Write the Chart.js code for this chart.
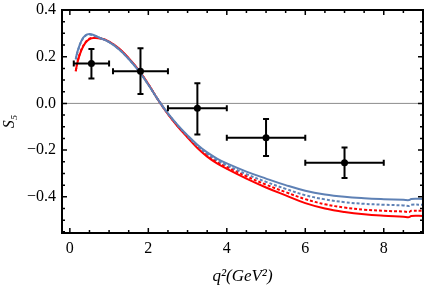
<!DOCTYPE html>
<html>
<head>
<meta charset="utf-8">
<script src="https://cdn.jsdelivr.net/npm/chart.js@4"></script>
<style>
  html, body { margin: 0; padding: 0; background: #fff; }
  #wrap { width: 427px; height: 287px; }
</style>
</head>
<body>
<div id="wrap"><canvas id="s5chart" width="427" height="287"></canvas></div>
<script>
// q^2 grid of the theory curves
let q2 = [0.15, 0.2, 0.3, 0.4, 0.5, 0.6, 0.8, 1.0, 1.25, 1.5, 1.75, 2.0, 2.25, 2.5, 2.75, 3.0, 3.25, 3.5, 3.75, 4.0, 4.5, 5.0, 5.5, 6.0, 6.5, 7.0, 7.5, 8.0, 8.5, 8.65, 8.7, 9.0];
let blue_solid  = [0.19, 0.225, 0.27, 0.292, 0.297, 0.293, 0.278, 0.262, 0.232, 0.19, 0.14, 0.08, 0.015, -0.043, -0.093, -0.137, -0.177, -0.21, -0.236, -0.257, -0.292, -0.322, -0.35, -0.374, -0.39, -0.4, -0.406, -0.41, -0.413, -0.414, -0.409, -0.409];
let blue_dashed = [0.188, 0.223, 0.268, 0.29, 0.295, 0.291, 0.278, 0.263, 0.233, 0.191, 0.141, 0.081, 0.015, -0.044, -0.095, -0.14, -0.182, -0.216, -0.243, -0.265, -0.303, -0.336, -0.366, -0.393, -0.411, -0.423, -0.43, -0.434, -0.437, -0.439, -0.434, -0.434];
let red_dashed  = [0.139, 0.182, 0.232, 0.262, 0.277, 0.281, 0.278, 0.264, 0.234, 0.192, 0.142, 0.082, 0.015, -0.045, -0.097, -0.143, -0.186, -0.222, -0.25, -0.272, -0.312, -0.348, -0.38, -0.41, -0.432, -0.446, -0.455, -0.46, -0.463, -0.465, -0.46, -0.46];
let red_solid   = [0.137, 0.18, 0.23, 0.26, 0.275, 0.28, 0.278, 0.265, 0.236, 0.194, 0.144, 0.083, 0.015, -0.046, -0.099, -0.146, -0.191, -0.228, -0.257, -0.28, -0.322, -0.36, -0.394, -0.427, -0.45, -0.465, -0.475, -0.481, -0.485, -0.487, -0.482, -0.482];

// measured points with error bars
let data_q2   = [0.55, 1.8, 3.25, 5.0, 7.0];
let data_s5   = [0.171, 0.138, -0.021, -0.147, -0.254];
let data_q2lo = [0.1, 1.1, 2.5, 4.0, 6.0];
let data_q2hi = [1.0, 2.5, 4.0, 6.0, 8.0];
let data_s5lo = [0.107, 0.04, -0.133, -0.225, -0.319];
let data_s5hi = [0.233, 0.236, 0.086, -0.067, -0.189];

// axes
let x_ticks = [0, 2, 4, 6, 8];
let y_ticks = [-0.4, -0.2, 0.0, 0.2, 0.4];
let y_tick_labels = ['\u22120.4', '\u22120.2', '0.0', '0.2', '0.4'];
let x_minor = [0.5, 1, 1.5, 2.5, 3, 3.5, 4.5, 5, 5.5, 6.5, 7, 7.5, 8.5];
let y_minor = [-0.55, -0.5, -0.45, -0.35, -0.3, -0.25, -0.15, -0.1, -0.05, 0.05, 0.1, 0.15, 0.25, 0.3, 0.35];

const blue = '#5e81b5';
const red = '#ff0000';
const serif = "'Liberation Serif', 'DejaVu Serif', serif";

function pts(ys) {
    return q2.map((q, i) => ({x: q, y: ys[i]}));
}

const errorBars = {
    id: 'errorBars',
    afterDatasetsDraw(chart) {
        const ctx = chart.ctx, xs = chart.scales.x, ys = chart.scales.y;
        ctx.save();
        ctx.strokeStyle = '#000';
        ctx.lineWidth = 2;
        const cap = 3;
        for (let i = 0; i < data_q2.length; i++) {
            const px = xs.getPixelForValue(data_q2[i]), py = ys.getPixelForValue(data_s5[i]);
            const x0 = xs.getPixelForValue(data_q2lo[i]), x1 = xs.getPixelForValue(data_q2hi[i]);
            const y0 = ys.getPixelForValue(data_s5lo[i]), y1 = ys.getPixelForValue(data_s5hi[i]);
            ctx.beginPath();
            ctx.moveTo(x0, py); ctx.lineTo(x1, py);
            ctx.moveTo(x0, py - cap); ctx.lineTo(x0, py + cap);
            ctx.moveTo(x1, py - cap); ctx.lineTo(x1, py + cap);
            ctx.moveTo(px, y0); ctx.lineTo(px, y1);
            ctx.moveTo(px - cap, y0); ctx.lineTo(px + cap, y0);
            ctx.moveTo(px - cap, y1); ctx.lineTo(px + cap, y1);
            ctx.stroke();
        }
        ctx.restore();
    }
};

const frameTicks = {
    id: 'frameTicks',
    afterDraw(chart) {
        const ctx = chart.ctx, a = chart.chartArea, xs = chart.scales.x, ys = chart.scales.y;
        ctx.save();
        ctx.strokeStyle = '#000';
        ctx.lineWidth = 1.5;
        ctx.beginPath();
        const tick = (v, len, isX) => {
            if (isX) {
                const p = xs.getPixelForValue(v);
                ctx.moveTo(p, a.bottom); ctx.lineTo(p, a.bottom - len);
                ctx.moveTo(p, a.top); ctx.lineTo(p, a.top + len);
            } else {
                const p = ys.getPixelForValue(v);
                ctx.moveTo(a.left, p); ctx.lineTo(a.left + len, p);
                ctx.moveTo(a.right, p); ctx.lineTo(a.right - len, p);
            }
        };
        x_ticks.forEach(v => tick(v, 5, true));
        x_minor.forEach(v => tick(v, 3, true));
        y_ticks.forEach(v => tick(v, 5, false));
        y_minor.forEach(v => tick(v, 3, false));
        ctx.stroke();
        ctx.lineWidth = 2;
        ctx.strokeRect(a.left, a.top, a.right - a.left, a.bottom - a.top);
        ctx.restore();
    }
};

new Chart('s5chart', {
    type: 'scatter',
    data: {
        datasets: [
            {data: data_q2.map((q, i) => ({x: q, y: data_s5[i]})), pointRadius: 3.5, pointBackgroundColor: '#000', pointBorderWidth: 0, showLine: false},
            {data: pts(blue_solid), borderColor: blue, borderWidth: 2, showLine: true, pointRadius: 0, tension: 0.4},
            {data: pts(blue_dashed), borderColor: blue, borderWidth: 2, borderDash: [3, 2], showLine: true, pointRadius: 0, tension: 0.4},
            {data: pts(red_dashed), borderColor: red, borderWidth: 2, borderDash: [3, 2], showLine: true, pointRadius: 0, tension: 0.4},
            {data: pts(red_solid), borderColor: red, borderWidth: 2, showLine: true, pointRadius: 0, tension: 0.4},
            {data: [{x: -0.2, y: 0}, {x: 9, y: 0}], borderColor: '#8c8c8c', borderWidth: 1, showLine: true, pointRadius: 0}
        ]
    },
    options: {
        responsive: false,
        animation: false,
        layout: {padding: {top: 10, right: 2, left: 0, bottom: 0}},
        plugins: {legend: {display: false}, tooltip: {enabled: false}},
        scales: {
            x: {
                type: 'linear', min: -0.2, max: 9,
                grid: {display: false, drawTicks: false},
                border: {display: false},
                afterBuildTicks: s => { s.ticks = x_ticks.map(v => ({value: v})); },
                afterFit: s => { s.height = 54; s.paddingLeft = 0; s.paddingRight = 0; },
                ticks: {color: '#000', font: {family: serif, size: 16}, padding: 6, maxRotation: 0},
                title: {display: true, text: 'q\u00B2(GeV\u00B2)', color: '#000', font: {family: serif, size: 17, style: 'italic'}, padding: {top: 2, bottom: 0}}
            },
            y: {
                type: 'linear', min: -0.555, max: 0.4,
                grid: {display: false, drawTicks: false},
                border: {display: false},
                afterBuildTicks: s => { s.ticks = y_ticks.map(v => ({value: v})); },
                afterFit: s => { s.width = 62; s.paddingTop = 0; s.paddingBottom = 0; },
                ticks: {color: '#000', font: {family: serif, size: 16}, padding: 6,
                    callback: v => y_tick_labels[y_ticks.findIndex(t => Math.abs(t - v) < 1e-9)]},
                title: {display: true, text: 'S\u2085', color: '#000', font: {family: serif, size: 16, style: 'italic'}, padding: {top: 0, bottom: 0}}
            }
        }
    },
    plugins: [errorBars, frameTicks]
});
</script>
</body>
</html>
